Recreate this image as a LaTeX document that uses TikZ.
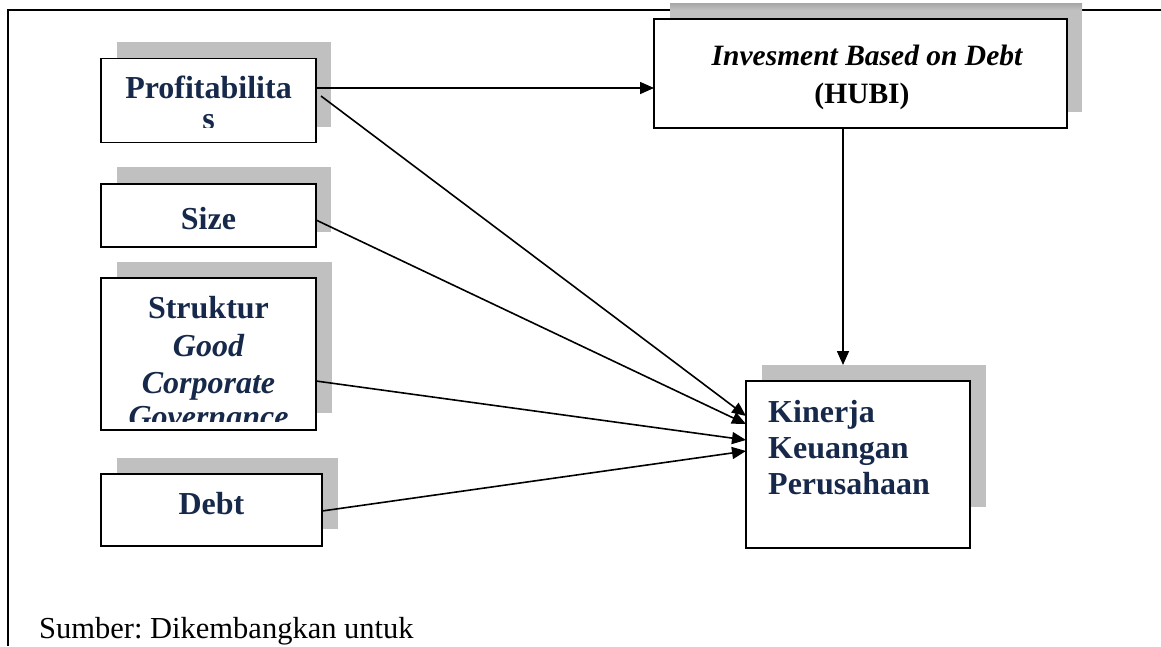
\documentclass[tikz,border=0pt]{standalone}
\usepackage{fontspec}
\setmainfont{Liberation Serif}
\usetikzlibrary{arrows.meta}
\definecolor{navy}{HTML}{17294A}
\definecolor{shade}{HTML}{C0C0C0}
\definecolor{shadetop}{HTML}{A6A6A6}
\frenchspacing
\begin{document}
\begin{tikzpicture}[x=1pt,y=-1pt,
  shadowbox/.style={fill=shade,draw=none,inner sep=0pt,outer sep=0pt},
  box/.style={fill=white,draw=black,line width=1.5pt,inner sep=0pt,outer sep=0pt},
  lbl/.style={font=\fontsize{32}{36}\selectfont\bfseries,text=navy,inner sep=0pt,anchor=base},
  lbll/.style={lbl,anchor=base west},
  ilbl/.style={font=\fontsize{32}{36}\selectfont\bfseries\itshape,text=navy,inner sep=0pt,anchor=base},
  hlbl/.style={font=\fontsize{29.5}{34}\selectfont\bfseries,text=black,inner sep=0pt,anchor=base},
  arr/.style={line width=1.6pt,-{Triangle[length=14pt,width=12pt]}},
  frame/.style={line width=1.5pt}]
\useasboundingbox (0,0) rectangle (1161,646);
% outer frame
\coordinate (ftl) at (8,10);
\coordinate (ftr) at (1161,10);
\coordinate (fbl) at (8,646);
\draw[frame] (ftr) -- (ftl) -- (fbl);
% shadows
\node[shadowbox,minimum width=214,minimum height=85] (profsh) at (224,84.5) {};
\node[shadowbox,minimum width=214,minimum height=65] (sizesh) at (224,199.5) {};
\node[shadowbox,minimum width=215,minimum height=151] (strsh) at (224.5,337.5) {};
\node[shadowbox,minimum width=221,minimum height=71] (debtsh) at (227.5,493.5) {};
\node[shadowbox,minimum width=412,minimum height=109] (hubish) at (876,57.5) {};
\shade[top color=shadetop,bottom color=shade] (670,3) rectangle (1082,10);
\node[shadowbox,minimum width=224,minimum height=142] (kinsh) at (874,436) {};
% boxes
\node[box,minimum width=215,minimum height=84] (prof) at (208.5,100.5) {};
\node[box,minimum width=215,minimum height=63] (size) at (208.5,215.5) {};
\node[box,minimum width=215,minimum height=152] (str) at (208.5,354) {};
\node[box,minimum width=221,minimum height=72] (debt) at (211.5,510) {};
\node[box,minimum width=413,minimum height=109] (hubi) at (860.5,73.5) {};
\node[box,minimum width=224,minimum height=167] (kin) at (858,464.5) {};
% texts
\begin{scope}
\clip (prof.north west) rectangle (prof.east |- 0,127);
\node[lbl] (t1) at (208.5,98) {Profitabilita};
\node[lbl] (t2) at (208.5,129.5) {s};
\end{scope}
\node[lbl] (t3) at (208.5,229) {Size};
\begin{scope}
\clip (str.north west) rectangle (str.east |- 0,421);
\node[lbl] (t4) at (208.5,318) {Struktur};
\node[ilbl] (t5) at (208.5,356) {Good};
\node[ilbl] (t6) at (208.5,393) {Corporate};
\node[ilbl] (t7) at (208.5,427.5) {Governance};
\end{scope}
\node[lbl] (t8) at (211.5,514) {Debt};
\node[hlbl,font=\fontsize{29.5}{34}\selectfont\bfseries\itshape] (t9) at (867,65) {Invesment Based on Debt};
\node[hlbl] (t10) at (862,103) {(HUBI)};
\node[lbll] (t11) at (768,422) {Kinerja};
\node[lbll] (t12) at (768,458) {Keuangan};
\node[lbll] (t13) at (768,494) {Perusahaan};
\node[anchor=base west,inner sep=0pt,font=\fontsize{30.5}{34}\selectfont] (src) at (39,638) {Sumber: Dikembangkan untuk};
% connectors
\draw[arr] (prof.east |- 0,88) -- (hubi.west |- 0,88);
\draw[arr] (321,96) -- (kin.west |- 0,416);
\draw[arr] (size.east |- 0,220) -- (kin.west |- 0,424);
\draw[arr] (str.east |- 0,381) -- (kin.west |- 0,440);
\draw[arr] (debt.east |- 0,511) -- (kin.west |- 0,451);
\draw[arr] (hubi.south -| 843,0) -- (kinsh.north -| 843,0);
\end{tikzpicture}
\end{document}
